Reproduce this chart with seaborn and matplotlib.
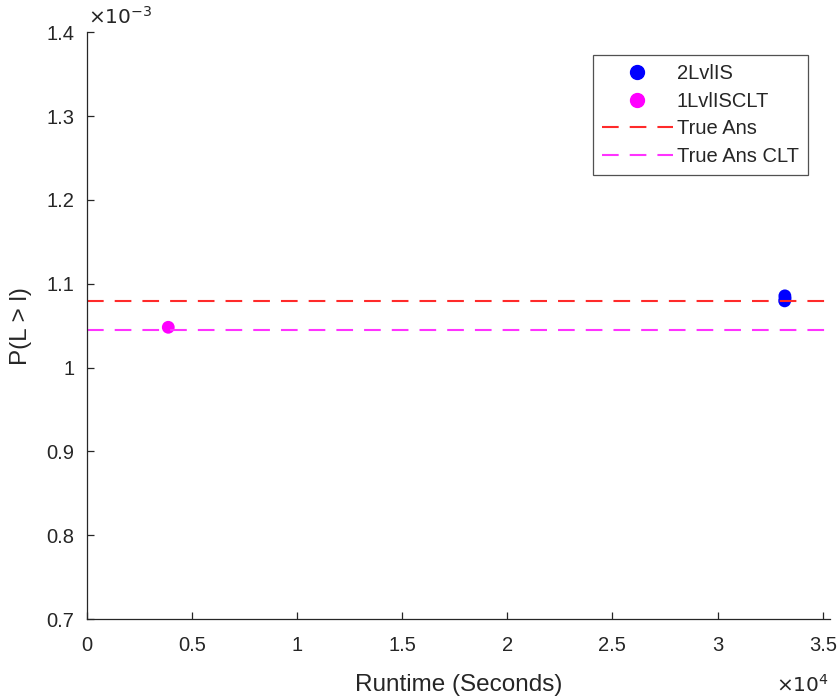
import matplotlib
matplotlib.use("Agg")
import matplotlib.pyplot as plt
import seaborn as sns
import pandas as pd
from matplotlib.ticker import FuncFormatter, MultipleLocator
from matplotlib.lines import Line2D

# Data
runtime_2lvl = [33200, 33210, 33190]
prob_2lvl = [1.0855e-3, 1.0825e-3, 1.0795e-3]
runtime_1lvl = [3880]
prob_1lvl = [1.048e-3]
true_ans = 1.0792e-3
true_ans_clt = 1.0447e-3
labels = ["2LvlIS", "1LvlISCLT", "True Ans", "True Ans CLT"]

sns.set_style("white")
plt.rcParams['font.family'] = ['Liberation Sans', 'DejaVu Sans']

fig = plt.figure(figsize=(8.4, 7), dpi=100)
ax = fig.add_axes([0.1032, 0.1157, 0.885, 0.8383])

dash = (0, (8, 5.3))
df = pd.DataFrame({
    "x": runtime_2lvl + runtime_1lvl,
    "y": prob_2lvl + prob_1lvl,
    "s": [labels[0]] * len(runtime_2lvl) + [labels[1]] * len(runtime_1lvl),
})
sns.scatterplot(data=df, x="x", y="y", hue="s",
                palette={labels[0]: "#0000ff", labels[1]: "#ff00ff"},
                s=85, edgecolor="none", ax=ax, legend=False)
ax.axhline(true_ans, color="#ff2a2a", ls=dash, lw=1.5)
ax.axhline(true_ans_clt, color="#ff33ff", ls=dash, lw=1.5)

ax.set_xlim(0, 35350)
ax.set_ylim(0.7e-3, 1.4e-3)
ax.xaxis.set_major_locator(MultipleLocator(5000))
ax.yaxis.set_major_locator(MultipleLocator(0.1e-3))
ax.xaxis.set_major_formatter(FuncFormatter(lambda v, p: f"{v/1e4:g}"))
ax.yaxis.set_major_formatter(FuncFormatter(lambda v, p: f"{round(v*1e3, 4):g}"))

tc = "#262626"
for s in ["top", "right"]:
    ax.spines[s].set_visible(False)
for s in ["left", "bottom"]:
    ax.spines[s].set_color(tc)
    ax.spines[s].set_linewidth(0.9)
ax.tick_params(direction="in", length=5, width=0.9, colors=tc, labelsize=14.5,
               left=True, bottom=True)
ax.tick_params(axis="x", pad=12)
ax.tick_params(axis="y", pad=9)

ax.set_xlabel("Runtime (Seconds)", fontsize=17.5, color=tc, labelpad=14)
ax.set_ylabel("P(L > l)", fontsize=17.5, color=tc, labelpad=10)

fig.text(0.1045, 0.960, r"$\times10^{-3}$", fontsize=14.5, color=tc,
         ha="left", va="bottom", math_fontfamily="dejavusans")
fig.text(0.987, 0.006, r"$\times10^{4}$", fontsize=14.5, color=tc,
         ha="right", va="bottom", math_fontfamily="dejavusans")

handles = [
    Line2D([], [], ls="none", marker="o", color="#0000ff", markersize=10),
    Line2D([], [], ls="none", marker="o", color="#ff00ff", markersize=10),
    Line2D([], [], color="#ff2a2a", ls=dash, lw=1.5),
    Line2D([], [], color="#ff33ff", ls=dash, lw=1.5),
]
leg = ax.legend(handles, labels, loc="upper right", bbox_to_anchor=(0.970, 0.961),
                fontsize=14.5, frameon=True, fancybox=False, handlelength=3.5,
                handletextpad=0.2, borderpad=0.45, labelspacing=0.43, borderaxespad=0)
leg.get_frame().set_edgecolor(tc)
leg.get_frame().set_linewidth(0.9)
for t in leg.get_texts():
    t.set_color(tc)

fig.savefig("out.png", dpi=100)
